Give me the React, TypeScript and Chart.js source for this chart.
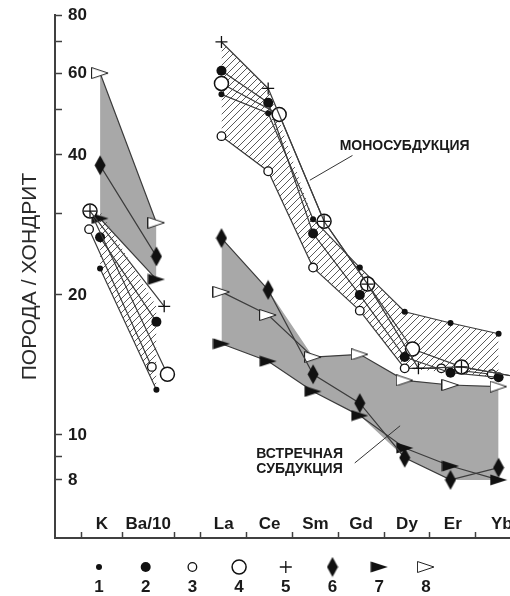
import React, { useEffect, useRef } from 'react';
import { Chart, registerables } from 'chart.js';
import { drawPoint } from 'chart.js/helpers';

Chart.register(...registerables);

// ---------------- data ----------------
const CATEGORIES = ['K', 'Ba/10', 'La', 'Ce', 'Sm', 'Gd', 'Dy', 'Er', 'Yb'];
const SERIES_LABELS = ['1', '2', '3', '4', '5', '6', '7', '8'];
const SERIES_1 = [22.8, 12.5, 54.0, 49.2, 29.1, 22.9, 18.4, 17.4, 16.5];
const SERIES_2 = [26.6, 17.5, 60.7, 51.8, 27.1, 20.0, 14.7, 13.6, 13.3];
const SERIES_3 = [27.7, 14.0, 43.9, 36.9, 22.9, 18.5, 13.9, 13.9, 13.5];
const SERIES_4 = [30.3, 13.5, 57.0, 48.9, 28.8, 21.1, 15.3, 14.0, 13.3];
const SERIES_5 = [30.3, 18.9, 70.0, 55.6, 28.8, 21.1, 13.9, 14.0, 13.3];
const SERIES_6 = [38.0, 24.2, 26.5, 20.5, 13.5, 11.7, 8.93, 8.0, 8.5];
const SERIES_7 = [29.2, 21.6, 15.7, 14.4, 12.4, 11.0, 9.37, 8.57, 8.0];
const SERIES_8 = [60.0, 28.6, 20.3, 18.1, 14.7, 14.9, 13.1, 12.8, 12.7];
const Y_TICKS = [8, 9, 10, 20, 30, 40, 50, 60, 70, 80];
const Y_TICK_LABELS = [8, 10, 20, 40, 60, 80];
const Y_TITLE = 'ПОРОДА / ХОНДРИТ';
const MONO_LABEL = ['МОНОСУБДУКЦИЯ'];
const COUNTER_LABEL = ['ВСТРЕЧНАЯ', 'СУБДУКЦИЯ'];

// ---------------- layout (axis units) ----------------
const POINT_X = [0.8, 2.03, 3.45, 4.47, 5.45, 6.47, 7.45, 8.45, 9.5];
const LABEL_X = [0.84, 1.85, 3.5, 4.5, 5.5, 6.5, 7.5, 8.5, 9.57];
const CELL_EDGES = [0.394, 1.282, 2.415, 3, 4, 5, 6, 7, 8, 9];
const GAP_X = 2.7;
const NUDGE: Record<number, number[]> = {
  2: [-0.24, -0.1, 0, 0, 0, 0, 0, -0.2, -0.15],
  3: [-0.22, 0.24, 0, 0.24, 0.24, 0.17, 0.17, 0.24, 0.45],
  4: [-0.22, 0.17, 0, 0, 0.24, 0.17, 0.3, 0.24, 0.45],
};
const SEGMENTS = [[0, 1], [2, 3, 4, 5, 6, 7, 8]];

const FONT = "'Liberation Sans', Arial, sans-serif";
const INK = '#1a1a1a';
const LINE = '#3c3c3c';
const AXIS = '#404040';
const GRAY = '#a8a8a8';

export default function App() {
  const ref = useRef<HTMLCanvasElement>(null);

  useEffect(() => {
    const canvas = ref.current;
    if (!canvas) return;

    const makeCanvas = (w: number, h: number, draw: (g: CanvasRenderingContext2D) => void) => {
      const c = document.createElement('canvas');
      c.width = w;
      c.height = h;
      draw(c.getContext('2d') as CanvasRenderingContext2D);
      return c;
    };

    const diamond = makeCanvas(12, 21, (g) => {
      g.fillStyle = '#111';
      g.beginPath();
      g.moveTo(6, 0.5); g.lineTo(11.5, 10.5); g.lineTo(6, 20.5); g.lineTo(0.5, 10.5);
      g.closePath(); g.fill();
    });
    const triFilled = makeCanvas(18, 12, (g) => {
      g.fillStyle = '#111';
      g.beginPath();
      g.moveTo(0.5, 0.5); g.lineTo(17.5, 6); g.lineTo(0.5, 11.5);
      g.closePath(); g.fill();
    });
    const triOpen = makeCanvas(18, 12, (g) => {
      g.fillStyle = '#fff';
      g.strokeStyle = '#222';
      g.lineWidth = 1;
      g.beginPath();
      g.moveTo(0.5, 0.5); g.lineTo(17, 6); g.lineTo(0.5, 11.5);
      g.closePath(); g.fill(); g.stroke();
    });
    const hatchTile = makeCanvas(7, 7, (g) => {
      g.strokeStyle = '#5a5a5a';
      g.lineWidth = 1;
      g.beginPath();
      g.moveTo(-1, 8); g.lineTo(8, -1);
      g.moveTo(-1, 1); g.lineTo(1, -1);
      g.moveTo(6, 8); g.lineTo(8, 6);
      g.stroke();
    });
    const hatch = (canvas.getContext('2d') as CanvasRenderingContext2D).createPattern(hatchTile, 'repeat');

    const MARKERS: any[] = [
      { pointStyle: 'circle', radius: 3, bg: '#111', border: '#111', bw: 0 },
      { pointStyle: 'circle', radius: 5, bg: '#111', border: '#111', bw: 0 },
      { pointStyle: 'circle', radius: 4.3, bg: '#fff', border: '#111', bw: 1.3 },
      { pointStyle: 'circle', radius: 7, bg: '#fff', border: '#111', bw: 1.5 },
      { pointStyle: 'cross', radius: 6, bg: '#111', border: '#111', bw: 1.3 },
      { pointStyle: diamond, radius: 6, bg: '#111', border: '#111', bw: 0 },
      { pointStyle: triFilled, radius: 6, bg: '#111', border: '#111', bw: 0 },
      { pointStyle: triOpen, radius: 6, bg: '#fff', border: '#111', bw: 0 },
    ];
    const DRAW_ORDER = [4, 5, 6, 2, 1, 7, 8, 9];

    const ALL = [SERIES_1, SERIES_2, SERIES_3, SERIES_4, SERIES_5, SERIES_6, SERIES_7, SERIES_8];
    const MONO = ALL.slice(0, 5);
    const COUNTER = ALL.slice(5, 8);

    const datasets: any[] = [];
    const envelope = (group: number[][], fillStyle: any, order: number) => {
      SEGMENTS.forEach((idx) => {
        datasets.push({
          data: idx.map((i) => ({ x: POINT_X[i], y: Math.max(...group.map((s) => s[i])) })),
          borderColor: 'rgba(0,0,0,0)', borderWidth: 0, pointRadius: 0, fill: false, order,
        });
        datasets.push({
          data: idx.map((i) => ({ x: POINT_X[i], y: Math.min(...group.map((s) => s[i])) })),
          borderColor: 'rgba(0,0,0,0)', borderWidth: 0, pointRadius: 0,
          fill: '-1', backgroundColor: fillStyle, order,
        });
      });
    };
    envelope(COUNTER, GRAY, 60);
    envelope(MONO, hatch, 55);

    ALL.forEach((s, k) => {
      const m = MARKERS[k];
      const nudge = NUDGE[k] || [];
      const pts: any[] = [];
      s.forEach((v, i) => {
        if (i === 2) pts.push({ x: GAP_X, y: null });
        pts.push({ x: POINT_X[i] + (nudge[i] || 0), y: v });
      });
      datasets.push({
        label: SERIES_LABELS[k],
        data: pts,
        borderColor: LINE,
        borderWidth: 1.2,
        tension: 0,
        fill: false,
        spanGaps: false,
        pointStyle: m.pointStyle,
        pointRadius: m.radius,
        pointBackgroundColor: m.bg,
        pointBorderColor: m.border,
        pointBorderWidth: m.bw,
        order: DRAW_ORDER[k],
      });
    });

    const annotationPlugin = {
      id: 'groupLabels',
      afterDatasetsDraw(chart: any) {
        const { ctx, scales } = chart;
        const X = (v: number) => scales.x.getPixelForValue(v);
        const Y = (v: number) => scales.y.getPixelForValue(v);
        ctx.save();
        ctx.strokeStyle = '#333';
        ctx.lineWidth = 1;
        const lines: [number, number, number, number][] = [
          [5.38, 35.3, 6.31, 39.9],
          [6.36, 8.7, 7.35, 10.46],
        ];
        lines.forEach(([x1, y1, x2, y2]) => {
          ctx.beginPath();
          ctx.moveTo(X(x1), Y(y1));
          ctx.lineTo(X(x2), Y(y2));
          ctx.stroke();
        });
        ctx.fillStyle = INK;
        ctx.font = `bold 14px ${FONT}`;
        ctx.textAlign = 'left';
        ctx.textBaseline = 'middle';
        MONO_LABEL.forEach((t, i) => ctx.fillText(t, X(6.03), Y(41.8) + i * 15));
        COUNTER_LABEL.forEach((t, i) => ctx.fillText(t, X(4.21), Y(9.1) + i * 15));
        ctx.restore();
      },
    };

    const legendPlugin = {
      id: 'numberLegend',
      afterDraw(chart: any) {
        const { ctx, chartArea } = chart;
        ctx.save();
        MARKERS.forEach((m, i) => {
          const x = chartArea.left + 44 + i * 46.7;
          const y = chartArea.bottom + 29;
          ctx.fillStyle = m.bg;
          ctx.strokeStyle = m.border;
          ctx.lineWidth = m.bw;
          drawPoint(ctx, { pointStyle: m.pointStyle, rotation: 0, radius: m.radius, borderWidth: m.bw } as any, x, y);
          ctx.fillStyle = INK;
          ctx.font = `bold 17px ${FONT}`;
          ctx.textAlign = 'center';
          ctx.textBaseline = 'middle';
          ctx.fillText(SERIES_LABELS[i], x, chartArea.bottom + 49);
        });
        ctx.restore();
      },
    };

    const near = (a: number, b: number) => Math.abs(a - b) < 1e-6;

    const chart = new Chart(canvas, {
      type: 'line',
      data: { datasets },
      plugins: [annotationPlugin, legendPlugin],
      options: {
        responsive: false,
        animation: false,
        events: [],
        layout: { padding: { top: 15, right: 5, bottom: 0, left: 0 } },
        plugins: { legend: { display: false }, tooltip: { enabled: false } },
        scales: {
          x: {
            type: 'linear',
            position: 'bottom',
            min: -0.184,
            max: 10.0,
            border: { display: true, color: AXIS, width: 2 },
            grid: {
              drawOnChartArea: false,
              drawTicks: true,
              tickLength: -6,
              tickWidth: 1.5,
              tickColor: (c: any) =>
                c.tick && CELL_EDGES.some((e) => near(e, c.tick.value)) ? AXIS : 'rgba(0,0,0,0)',
            },
            ticks: {
              mirror: true,
              padding: 3,
              autoSkip: false,
              maxRotation: 0,
              minRotation: 0,
              color: INK,
              font: { family: FONT, size: 17, weight: 'bold' },
              callback: (v: any) => {
                const k = LABEL_X.findIndex((p) => near(p, Number(v)));
                return k >= 0 ? CATEGORIES[k] : '';
              },
            },
            afterBuildTicks: (scale: any) => {
              scale.ticks = [...CELL_EDGES, ...LABEL_X].sort((a, b) => a - b).map((v) => ({ value: v }));
            },
            afterFit: (scale: any) => {
              scale.height = 58;
              scale.paddingLeft = 0;
              scale.paddingRight = 0;
            },
          },
          y: {
            type: 'logarithmic',
            position: 'left',
            min: 6,
            max: 80,
            border: { display: true, color: AXIS, width: 2 },
            grid: {
              drawOnChartArea: false,
              drawTicks: true,
              tickLength: -7,
              tickWidth: 1.5,
              tickColor: AXIS,
            },
            ticks: {
              mirror: true,
              padding: 13,
              autoSkip: false,
              color: INK,
              font: { family: FONT, size: 17, weight: 'bold' },
              callback: (v: any) => (Y_TICK_LABELS.includes(Number(v)) ? String(v) : ''),
            },
            afterBuildTicks: (scale: any) => {
              scale.ticks = Y_TICKS.map((v) => ({ value: v }));
            },
            afterFit: (scale: any) => {
              scale.width = 55;
              scale.paddingTop = 0;
              scale.paddingBottom = 0;
            },
            title: {
              display: true,
              text: Y_TITLE,
              color: '#2a2a2a',
              font: { family: FONT, size: 21, weight: 'normal' },
              padding: { top: 17.4, bottom: 0 },
            },
          },
        },
      } as any,
    });

    return () => chart.destroy();
  }, []);

  return (
    <div
      style={{
        position: 'fixed', left: 0, top: 0, width: 510, height: 596,
        overflow: 'hidden', background: '#fff',
      }}
    >
      <canvas ref={ref} width={530} height={596} style={{ display: 'block' }} />
    </div>
  );
}
